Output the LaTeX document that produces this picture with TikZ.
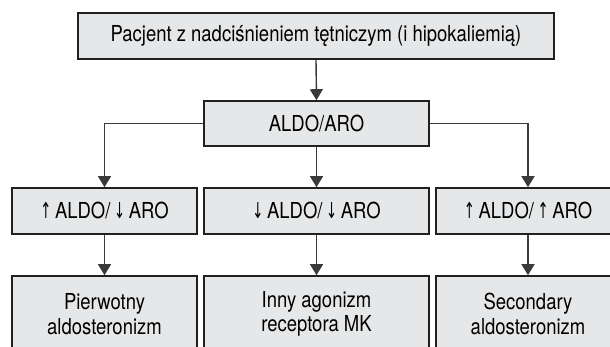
\documentclass[tikz,border=0pt]{standalone}
\usepackage{fontspec}
\setmainfont{TeX Gyre Heros}[FakeStretch=0.84]
\newfontfamily\arrowfont{DejaVu Sans}[FakeStretch=0.6]
\usetikzlibrary{arrows.meta}
\definecolor{boxfill}{HTML}{E6E7E8}
\definecolor{boxline}{HTML}{231F20}
\definecolor{conline}{HTML}{3A3A3A}
\newcommand{\upar}{{\arrowfont\char"2191}}
\newcommand{\dnar}{{\arrowfont\char"2193}}
\begin{document}
\begin{tikzpicture}[x=1pt,y=-1pt,
  box/.style={draw=boxline,line width=1.6pt,fill=boxfill,inner sep=0pt,
    font=\fontsize{22}{24.5}\selectfont,align=center},
  con/.style={draw=conline,line width=1.4pt,-{Triangle[width=13pt,length=11pt]}}]
\useasboundingbox (0,0) rectangle (610,347);
\clip (0,0) rectangle (610,347);
\node[box,minimum width=476pt,minimum height=46pt] (top) at (316,36) {Pacjent z nadciśnieniem tętniczym (i hipokaliemią)};
\node[box,minimum width=225pt,minimum height=45pt] (aldo) at (316.5,123.5) {ALDO/ARO};
\node[box,minimum width=185pt,minimum height=46pt] (l2) at (104.5,211) {\upar\,ALDO/\,\dnar\,ARO};
\node[box,minimum width=225pt,minimum height=46pt] (m2) at (316.5,211) {\dnar\,ALDO/\,\dnar\,ARO};
\node[box,minimum width=184pt,minimum height=46pt] (r2) at (528,211) {\upar\,ALDO/\,\upar\,ARO};
\node[box,minimum width=185pt,minimum height=76pt] (l3) at (104.5,314) {Pierwotny\\aldosteronizm};
\node[box,minimum width=225pt,minimum height=76pt] (m3) at (316.5,314) {Inny agonizm\\receptora MK};
\node[box,minimum width=184pt,minimum height=76pt] (r3) at (528,314) {Secondary\\aldosteronizm};
\draw[con] (top.south) -- (aldo.north);
\draw[con] (aldo.west) -| (l2.north);
\draw[con] (aldo.south) -- (m2.north);
\draw[con] (aldo.east) -| (r2.north);
\draw[con] (l2.south) -- (l3.north);
\draw[con] (m2.south) -- (m3.north);
\draw[con] (r2.south) -- (r3.north);
\end{tikzpicture}
\end{document}
